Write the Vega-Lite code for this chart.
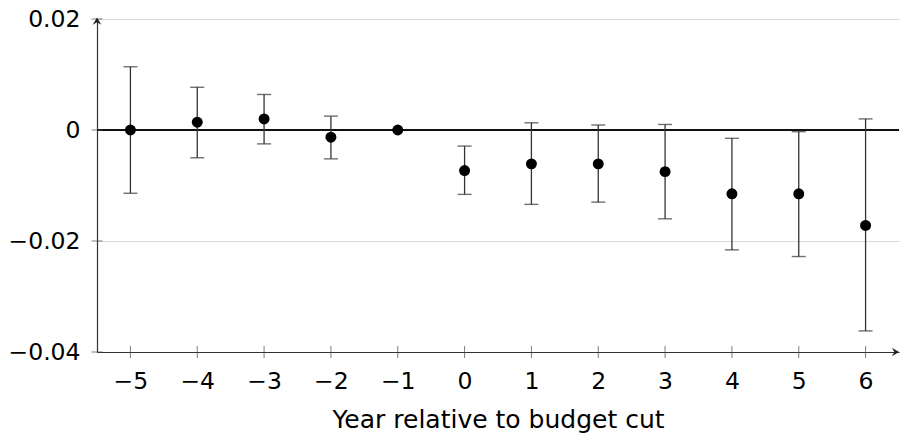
{
  "$schema": "https://vega.github.io/schema/vega-lite/v6.json",
  "width": 802,
  "height": 333,
  "autosize": {"type": "none"},
  "padding": {"left": 97, "top": 19, "right": 4, "bottom": 84},
  "background": "white",
  "config": {
    "view": {"stroke": null},
    "font": "DejaVu Sans",
    "axisX": {
      "ticks": false,
      "grid": false,
      "labelPadding": 17,
      "labelFontSize": 23.5,
      "labelColor": "#000",
      "labelFont": "DejaVu Sans",
      "domainColor": "#333",
      "domainWidth": 1.2,
      "titleFontSize": 25,
      "titleFontWeight": "normal",
      "titleColor": "#000",
      "titleFont": "DejaVu Sans",
      "titlePadding": 15
    },
    "axisY": {
      "ticks": false,
      "grid": true,
      "gridColor": "#d9d9d9",
      "gridWidth": 1,
      "labelPadding": 17,
      "labelFontSize": 23.5,
      "labelColor": "#000",
      "labelFont": "DejaVu Sans",
      "domainColor": "#333",
      "domainWidth": 1.2
    }
  },
  "datasets": {
    "est": [
      {"t": -5, "est": 0.0, "lo": -0.0114, "hi": 0.0114},
      {"t": -4, "est": 0.0014, "lo": -0.0050, "hi": 0.0077},
      {"t": -3, "est": 0.0020, "lo": -0.0025, "hi": 0.0064},
      {"t": -2, "est": -0.0013, "lo": -0.0052, "hi": 0.0025},
      {"t": -1, "est": 0.0, "lo": null, "hi": null},
      {"t": 0, "est": -0.0073, "lo": -0.0116, "hi": -0.0029},
      {"t": 1, "est": -0.0061, "lo": -0.0134, "hi": 0.0013},
      {"t": 2, "est": -0.0061, "lo": -0.0130, "hi": 0.0009},
      {"t": 3, "est": -0.0075, "lo": -0.0160, "hi": 0.0010},
      {"t": 4, "est": -0.0115, "lo": -0.0216, "hi": -0.0015},
      {"t": 5, "est": -0.0115, "lo": -0.0228, "hi": -0.0003},
      {"t": 6, "est": -0.0172, "lo": -0.0362, "hi": 0.0020}
    ],
    "xticks": [{"v": -5}, {"v": -4}, {"v": -3}, {"v": -2}, {"v": -1}, {"v": 0}, {"v": 1}, {"v": 2}, {"v": 3}, {"v": 4}, {"v": 5}, {"v": 6}],
    "yticks": [{"v": -0.04}, {"v": -0.02}, {"v": 0}, {"v": 0.02}]
  },
  "layer": [
    {
      "data": {"name": "est"},
      "mark": {"type": "rule", "color": "#111", "strokeWidth": 2.2},
      "encoding": {
        "x": {"field": "t", "type": "quantitative", "scale": {"domain": [-5.5, 6.5], "nice": false, "zero": false}, "title": "Year relative to budget cut",
          "axis": {"values": [-5, -4, -3, -2, -1, 0, 1, 2, 3, 4, 5, 6], "format": "d"}},
        "y": {"datum": 0, "type": "quantitative", "scale": {"domain": [-0.04, 0.02], "nice": false, "zero": false}, "title": null,
          "axis": {"values": [-0.04, -0.02, 0, 0.02], "labelExpr": "datum.value == 0 ? '0' : format(datum.value, '.2f')"}}
      },
      "transform": [{"filter": "datum.t == -5"}]
    },
    {
      "data": {"name": "est"},
      "mark": {"type": "rule", "color": "#111", "strokeWidth": 2.2},
      "encoding": {
        "y": {"datum": 0, "type": "quantitative", "title": null}
      }
    },
    {
      "data": {"name": "est"},
      "mark": {"type": "rule", "color": "#333", "strokeWidth": 1.3},
      "encoding": {
        "x": {"field": "t", "type": "quantitative", "title": "Year relative to budget cut"},
        "y": {"field": "lo", "type": "quantitative", "title": null},
        "y2": {"field": "hi"}
      }
    },
    {
      "data": {"name": "est"},
      "mark": {"type": "tick", "orient": "horizontal", "color": "#333", "size": 14, "thickness": 1.4},
      "encoding": {
        "x": {"field": "t", "type": "quantitative", "title": "Year relative to budget cut"},
        "y": {"field": "lo", "type": "quantitative", "title": null}
      }
    },
    {
      "data": {"name": "est"},
      "mark": {"type": "tick", "orient": "horizontal", "color": "#333", "size": 14, "thickness": 1.4},
      "encoding": {
        "x": {"field": "t", "type": "quantitative", "title": "Year relative to budget cut"},
        "y": {"field": "hi", "type": "quantitative", "title": null}
      }
    },
    {
      "data": {"name": "est"},
      "mark": {"type": "point", "shape": "circle", "filled": true, "color": "#000", "size": 120, "opacity": 1},
      "encoding": {
        "x": {"field": "t", "type": "quantitative", "title": "Year relative to budget cut"},
        "y": {"field": "est", "type": "quantitative", "title": null}
      }
    },
    {
      "data": {"name": "xticks"},
      "mark": {"type": "tick", "orient": "vertical", "color": "#444", "size": 12, "thickness": 1},
      "encoding": {
        "x": {"field": "v", "type": "quantitative", "title": "Year relative to budget cut"},
        "y": {"datum": -0.04, "type": "quantitative", "title": null}
      }
    },
    {
      "data": {"name": "yticks"},
      "mark": {"type": "tick", "orient": "horizontal", "color": "#444", "size": 11, "thickness": 1},
      "encoding": {
        "x": {"datum": -5.5, "type": "quantitative", "title": "Year relative to budget cut"},
        "y": {"field": "v", "type": "quantitative", "title": null}
      }
    },
    {
      "data": {"values": [{"ax": "x"}]},
      "mark": {"type": "point", "shape": "M0,0 L-1,-0.6 L-0.65,0 L-1,0.6 Z", "filled": true, "color": "#222", "size": 200, "opacity": 1},
      "encoding": {
        "x": {"datum": 6.5, "type": "quantitative", "title": "Year relative to budget cut"},
        "y": {"datum": -0.04, "type": "quantitative", "title": null}
      }
    },
    {
      "data": {"values": [{"ax": "y"}]},
      "mark": {"type": "point", "shape": "M0,-0.2 L-0.6,0.8 L0,0.45 L0.6,0.8 Z", "filled": true, "color": "#222", "size": 200, "opacity": 1},
      "encoding": {
        "x": {"datum": -5.5, "type": "quantitative", "title": "Year relative to budget cut"},
        "y": {"datum": 0.02, "type": "quantitative", "title": null}
      }
    }
  ]
}
